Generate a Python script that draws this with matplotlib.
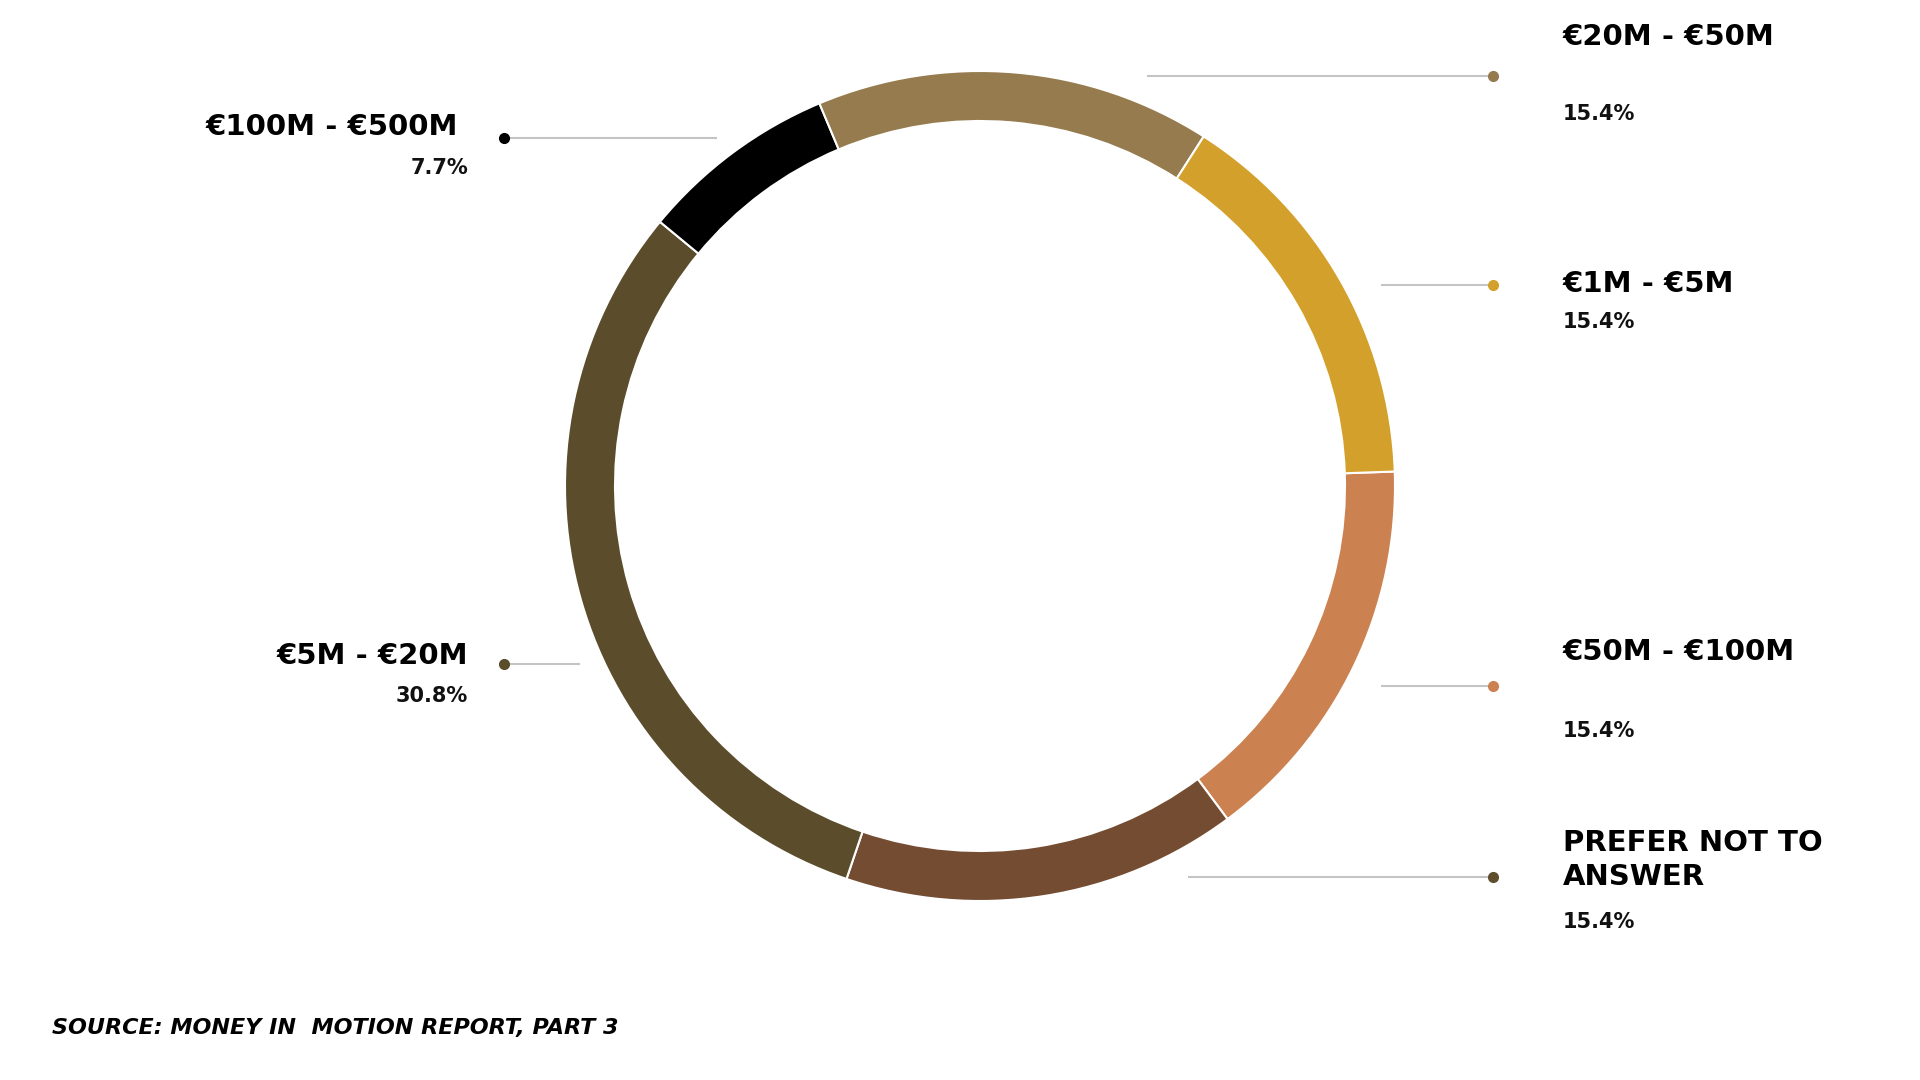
import matplotlib.pyplot as plt

# slices in drawing order (clockwise from 3 o'clock)
labels = ['€50M - €100M', 'PREFER NOT TO\nANSWER', '€5M - €20M',
          '€100M - €500M', '€20M - €50M', '€1M - €5M']
shares = [15.4, 15.4, 30.8, 7.7, 15.4, 15.4]
pct_text = ['15.4%', '15.4%', '30.8%', '7.7%', '15.4%', '15.4%']
colors = ['#CB8150', '#744C32', '#5B4D2C', '#000000', '#957B4E', '#D4A02C']
dot_colors = ['#CB8150', '#5E4E2E', '#5B4D2C', '#000000', '#957B4E', '#D4A02C']

W, H = 1920, 1080
fig = plt.figure(figsize=(19.2, 10.8), dpi=100)
ax = fig.add_axes([0, 0, 1, 1])

FONT = ['DejaVu Sans']

cx, cy = 980, H - 486
R = 415
ax.pie(shares, colors=colors, startangle=2, counterclock=False,
       center=(cx, cy), radius=R, frame=True,
       wedgeprops=dict(width=50, edgecolor='white', linewidth=1.5))
ax.set_xlim(0, W)
ax.set_ylim(0, H)
ax.set_aspect('equal')
ax.axis('off')

# callouts: (index, dot x, dot y, line end x, text x, title y, pct y)
callouts = [
    (4, 1493, 76, 1147, 1563, 37, 114),
    (5, 1493, 285, 1381, 1563, 284, 322),
    (0, 1493, 686, 1381, 1563, 652, 731),
    (1, 1493, 877, 1188, 1563, 860, 922),
    (3, 504, 138, 717, 458, 127, 168),
    (2, 504, 664, 580, 468, 656, 696),
]

for i, dx, dy, lx, tx, ty, py in callouts:
    ax.plot([dx, lx], [H - dy, H - dy], color='#c4c4c4', lw=1.5,
            solid_capstyle='butt', zorder=1)
    ax.plot(dx, H - dy, 'o', color=dot_colors[i], ms=7, zorder=2)
    ha = 'left' if tx > cx else 'right'
    ax.text(tx, H - ty, labels[i], ha=ha, va='center',
            fontsize=21, fontweight='bold', family=FONT, color='black',
            linespacing=1.3)
    px = tx if ha == 'left' else 468
    ax.text(px, H - py, pct_text[i], ha=ha, va='center',
            fontsize=15, fontweight='bold', family=FONT, color='#111111')

ax.text(52, H - 1028, 'SOURCE: MONEY IN  MOTION REPORT, PART 3',
        ha='left', va='center', fontsize=16, fontweight='bold',
        fontstyle='italic', family=FONT, color='black')

fig.savefig('out.png', dpi=100, facecolor='white')
